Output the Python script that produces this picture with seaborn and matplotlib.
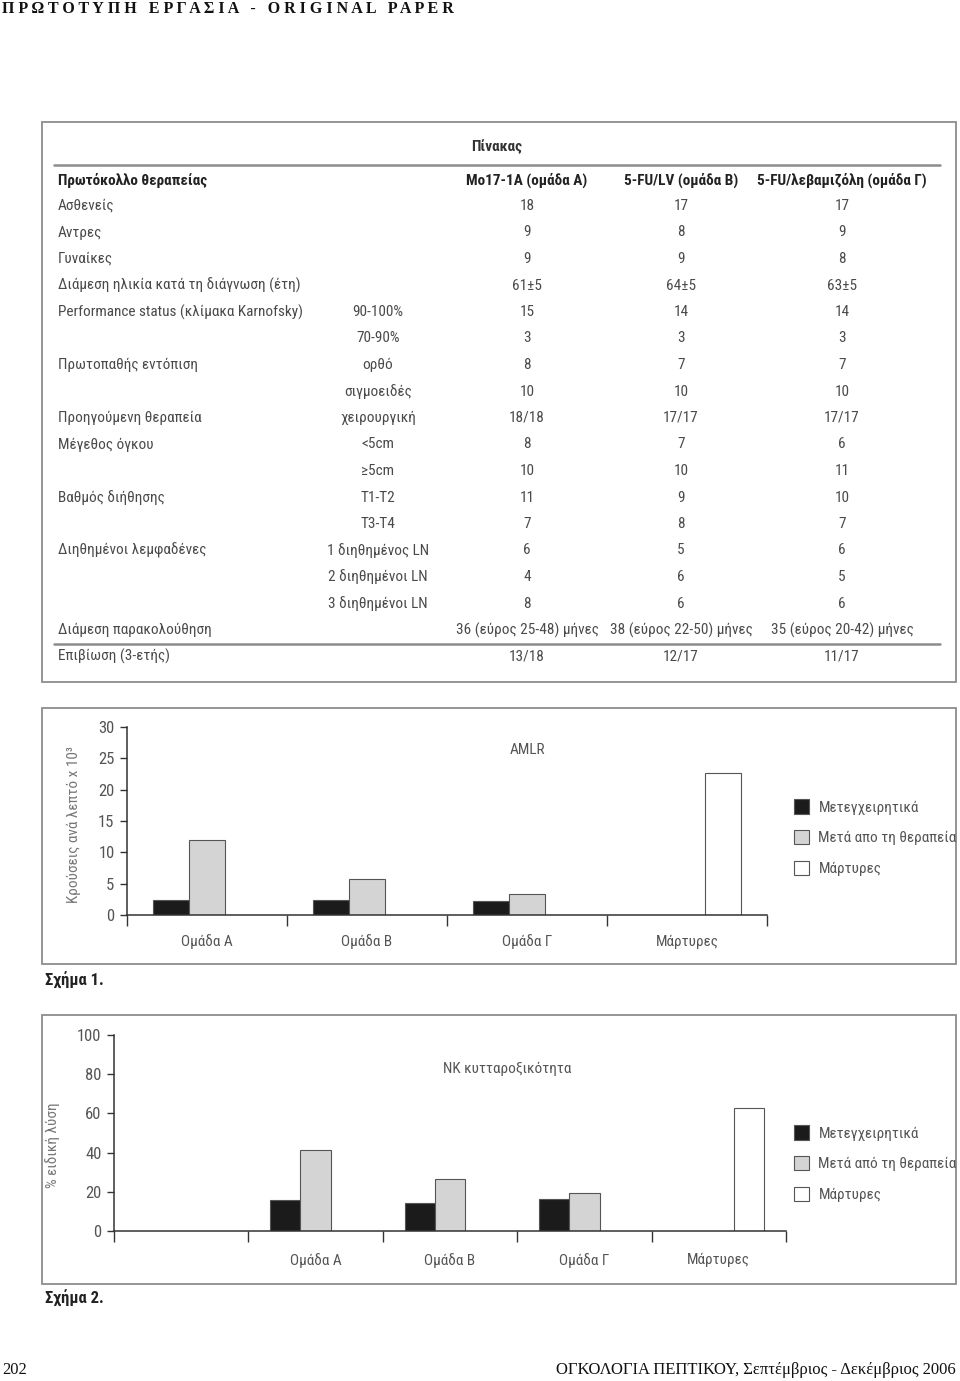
import matplotlib
matplotlib.use("Agg")
import matplotlib.pyplot as plt
import seaborn as sns
import pandas as pd
from matplotlib import font_manager
from matplotlib.patches import Rectangle, Patch
from matplotlib.lines import Line2D
from matplotlib.ticker import FixedLocator

# Table data
col_heads = ["Mo17-1A (ομάδα Α)", "5-FU/LV (ομάδα Β)", "5-FU/λεβαμιζόλη (ομάδα Γ)"]
row_labels = ["Ασθενείς", "Αντρες", "Γυναίκες", "Διάμεση ηλικία κατά τη διάγνωση (έτη)",
              "Performance status (κλίμακα Karnofsky)", "", "Πρωτοπαθής εντόπιση", "",
              "Προηγούμενη θεραπεία", "Μέγεθος όγκου", "", "Βαθμός διήθησης", "",
              "Διηθημένοι λεμφαδένες", "", "", "Διάμεση παρακολούθηση", "Επιβίωση (3-ετής)"]
row_sub = ["", "", "", "", "90-100%", "70-90%", "ορθό", "σιγμοειδές", "χειρουργική",
           "<5cm", "≥5cm", "T1-T2", "T3-T4", "1 διηθημένος LN", "2 διηθημένοι LN",
           "3 διηθημένοι LN", "", ""]
grp_a = ["18", "9", "9", "61±5", "15", "3", "8", "10", "18/18", "8", "10", "11", "7",
         "6", "4", "8", "36 (εύρος 25-48) μήνες", "13/18"]
grp_b = ["17", "8", "9", "64±5", "14", "3", "7", "10", "17/17", "7", "10", "9", "8",
         "5", "6", "6", "38 (εύρος 22-50) μήνες", "12/17"]
grp_g = ["17", "9", "8", "63±5", "14", "3", "7", "10", "17/17", "6", "11", "10", "7",
         "6", "5", "6", "35 (εύρος 20-42) μήνες", "11/17"]

# Chart data
groups = ["Ομάδα Α", "Ομάδα Β", "Ομάδα Γ", "Μάρτυρες"]
series1 = ["Μετεγχειρητικά", "Μετά απο τη θεραπεία", "Μάρτυρες"]
series2 = ["Μετεγχειρητικά", "Μετά από τη θεραπεία", "Μάρτυρες"]
amlr_pre = [2.4, 2.4, 2.3]
amlr_post = [12.0, 5.8, 3.4]
amlr_ctrl = 22.7
nk_pre = [15.9, 14.2, 16.4]
nk_post = [41.5, 26.6, 19.6]
nk_ctrl = 62.7
bar_colors = ["#1b1b1b", "#d4d4d4", "#ffffff"]

sns.set_style("white")
names = {f.name for f in font_manager.fontManager.ttflist}
narrow = "Roboto"
FS = 10
for cand, size in [("Liberation Sans Narrow", 11.5), ("Roboto Condensed", 11),
                   ("DejaVu Sans Condensed", 10), ("Roboto", 10)]:
    if cand in names:
        narrow, FS = cand, size
        break
serif = "Liberation Serif" if "Liberation Serif" in names else "DejaVu Serif"
plt.rcParams["font.family"] = [narrow, "DejaVu Sans"]

W, H = 960, 1381
fig = plt.figure(figsize=(W / 100, H / 100), dpi=100)
fig.patch.set_facecolor("white")


def fx(x):
    return x / W


def fy(y):
    return 1 - y / H


def box(x0, y0, x1, y1):
    fig.add_artist(Rectangle((fx(x0), fy(y1)), (x1 - x0) / W, (y1 - y0) / H,
                             transform=fig.transFigure, fill=False,
                             ec="#8c8c8c", lw=1.3))


def hline(x0, x1, y, lw=1.8):
    fig.add_artist(Line2D([fx(x0), fx(x1)], [fy(y), fy(y)], transform=fig.transFigure,
                          color="#8c8c8c", lw=lw))


# page header / footer
fig.text(fx(2), fy(9), "Π Ρ Ω Τ Ο Τ Υ Π Η   Ε Ρ Γ Α Σ Ι Α   -   O R I G I N A L   P A P E R",
         family=serif, fontsize=11.5, fontweight="bold", color="#111", va="center", ha="left")
fig.text(fx(2), fy(1370), "202", family=serif, fontsize=12, color="#111", va="center")
fig.text(fx(956), fy(1370), "ΟΓΚΟΛΟΓΙΑ ΠΕΠΤΙΚΟΥ, Σεπτέμβριος - Δεκέμβριος 2006",
         family=serif, fontsize=12, color="#111", va="center", ha="right")

# table
box(42, 122, 956, 682)
fig.text(fx(497), fy(147), "Πίνακας", fontsize=FS, fontweight="bold", color="#333",
         ha="center", va="center")
hline(54, 940, 165)
hline(54, 940, 644)
col_x = [527, 681, 842]
fig.text(fx(58), fy(180), "Πρωτόκολλο θεραπείας", fontsize=FS, fontweight="bold",
         color="#222", va="center")
for cx, head in zip(col_x, col_heads):
    fig.text(fx(cx), fy(180), head, fontsize=FS, fontweight="bold", color="#222",
             ha="center", va="center")
for i in range(len(row_labels)):
    y = fy(206 + i * 26.5)
    tc = "#4a4a4a"
    fig.text(fx(58), y, row_labels[i], fontsize=FS, color=tc, va="center")
    fig.text(fx(378), y, row_sub[i], fontsize=FS, color=tc, va="center", ha="center")
    for cx, vals in zip(col_x, [grp_a, grp_b, grp_g]):
        fig.text(fx(cx), y, vals[i], fontsize=FS, color=tc, va="center", ha="center")


def make_df(pre, post, ctrl, labels):
    rows = []
    for g, a, b in zip(groups[:3], pre, post):
        rows.append((g, labels[0], a))
        rows.append((g, labels[1], b))
    rows.append((groups[3], labels[2], ctrl))
    return pd.DataFrame(rows, columns=["group", "series", "value"])


def draw_chart(rect, df, labels, ymax, step, xlim, ylabel, ylab_pos, title, title_xy,
               legend_top, label_pad):
    x0, y0, x1, y1 = rect
    ax = fig.add_axes([fx(x0), fy(y1), (x1 - x0) / W, (y1 - y0) / H])
    sns.barplot(data=df, x="group", y="value", hue="series", order=groups,
                hue_order=labels, palette=bar_colors, saturation=1, width=0.675,
                edgecolor="#555555", linewidth=0.8, legend=False, ax=ax)
    ax.set_xlim(*xlim)
    ax.set_ylim(0, ymax)
    ax.set_yticks(range(0, ymax + 1, step))
    ax.set_facecolor("none")
    sns.despine(ax=ax)
    for s in ["left", "bottom"]:
        ax.spines[s].set_color("#333")
        ax.spines[s].set_linewidth(1.1)
    ax.xaxis.set_minor_locator(FixedLocator([b + 0.5 for b in range(int(xlim[0] - 0.5), 4)]))
    ax.tick_params(axis="x", which="major", length=0, pad=label_pad, labelsize=FS,
                   labelcolor="#555")
    ax.tick_params(axis="x", which="minor", length=8, width=1, color="#333", direction="out",
                   bottom=True)
    ax.tick_params(axis="y", length=5, width=1, color="#333", direction="out", left=True,
                   labelsize=FS + 1, labelcolor="#555", pad=4)
    ax.set_xlabel("")
    ax.set_ylabel(ylabel, fontsize=FS, color="#777")
    ax.yaxis.set_label_coords(*ylab_pos)
    fig.text(fx(title_xy[0]), fy(title_xy[1]), title, fontsize=FS, color="#555",
             ha="center", va="center")
    handles = [Patch(facecolor=c, edgecolor="#555555", lw=0.8) for c in bar_colors]
    fig.legend(handles, labels, loc="upper left",
               bbox_to_anchor=(fx(794), fy(legend_top)), frameon=False, fontsize=FS,
               labelcolor="#555", handlelength=1.0, handleheight=1.1, handletextpad=0.6,
               labelspacing=1.0, borderpad=0, borderaxespad=0)
    return ax


# Figure 1
box(42, 708, 956, 964)
draw_chart((127, 727, 767, 915), make_df(amlr_pre, amlr_post, amlr_ctrl, series1), series1,
           30, 5, (-0.5, 3.5), "Κρούσεις ανά λεπτό x 10³", (-0.072, 0.48), "AMLR",
           (527, 750), 799, 14)
fig.text(fx(45), fy(980), "Σχήμα 1.", fontsize=FS + 1, fontweight="bold", color="#222",
         va="center")

# Figure 2
box(42, 1015, 956, 1284)
draw_chart((114, 1035, 786, 1231), make_df(nk_pre, nk_post, nk_ctrl, series2), series2,
           100, 20, (-1.5, 3.5), "% ειδική λύση", (-0.08, 0.44), "ΝΚ κυτταροξικότητα",
           (507, 1069), 1125, 16)
fig.text(fx(45), fy(1298), "Σχήμα 2.", fontsize=FS + 1, fontweight="bold", color="#222",
         va="center")

fig.savefig("out.png", dpi=100, facecolor="white")
